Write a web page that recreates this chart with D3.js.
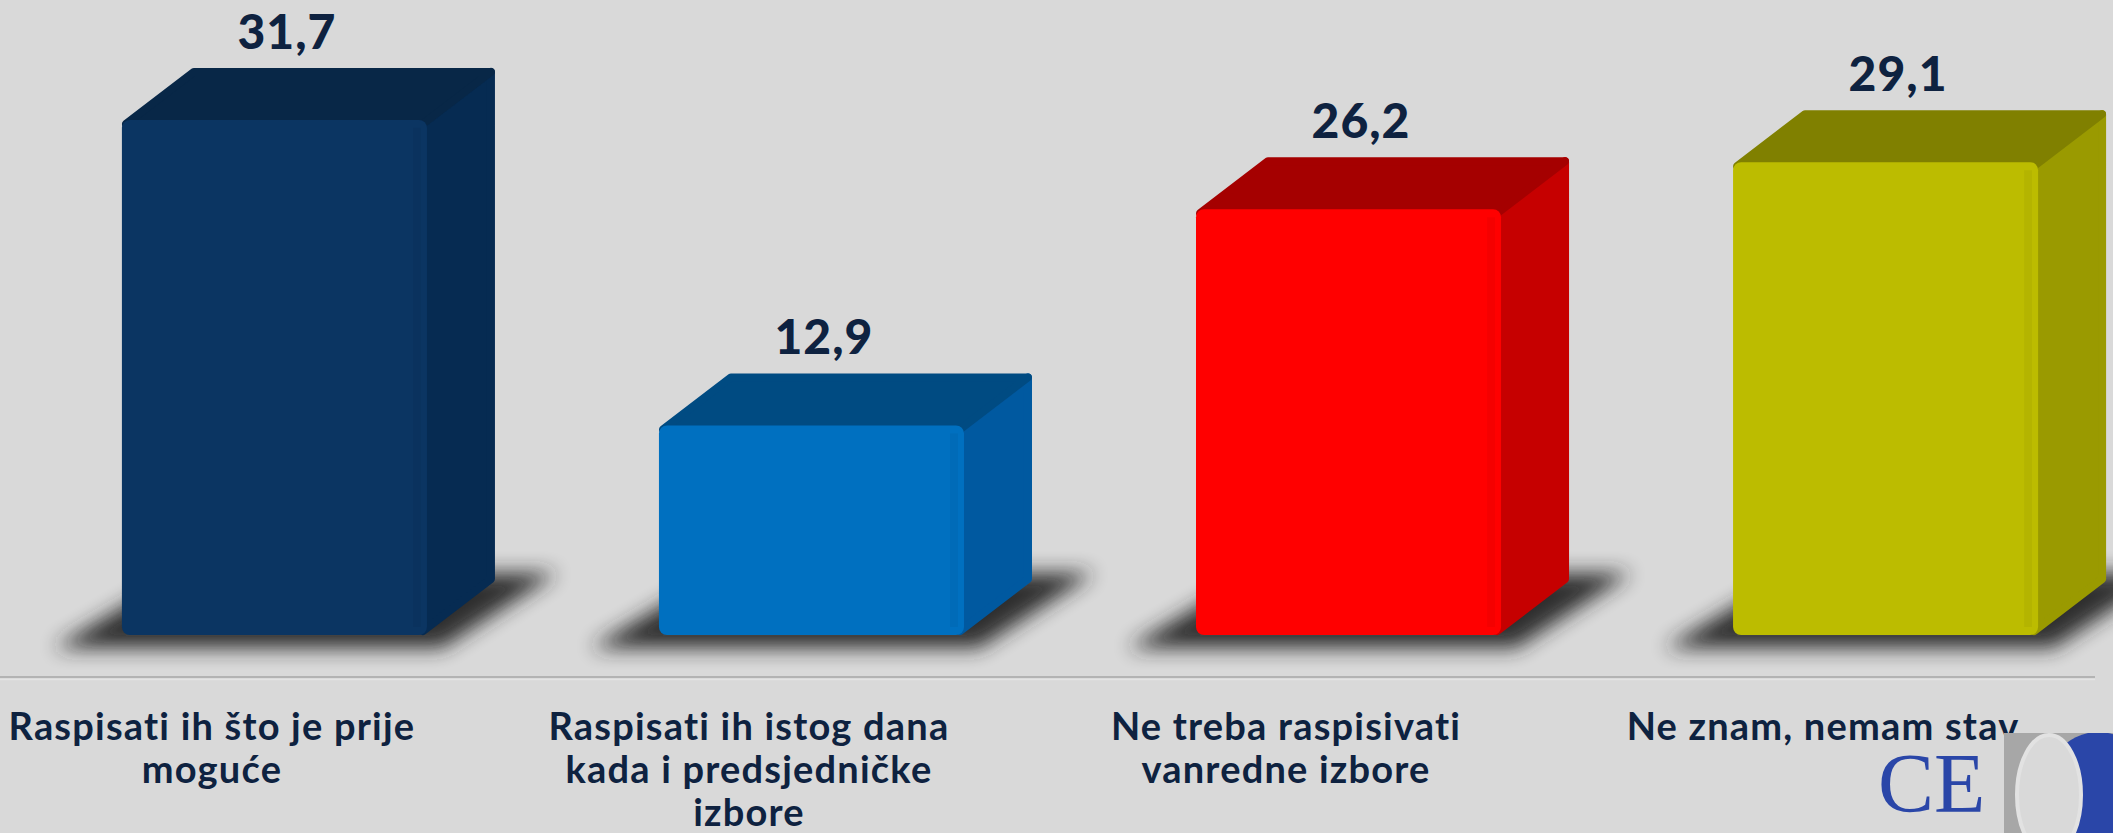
<!DOCTYPE html>
<html>
<head>
<meta charset="utf-8">
<script src="https://cdn.jsdelivr.net/npm/d3@7"></script>
<style>
  html, body { margin: 0; padding: 0; background: #d9d9d9; }
  svg { display: block; }
</style>
</head>
<body>
<svg id="chart"></svg>
<script>
// data
const categories = ["c1", "c2", "c3", "c4"];
const values = [31.7, 12.9, 26.2, 29.1];
const valueLabels = ["31,7", "12,9", "26,2", "29,1"];
const categoryLines = [
    ["Raspisati ih što je prije", "moguće"],
    ["Raspisati ih istog dana", "kada i predsjedničke", "izbore"],
    ["Ne treba raspisivati", "vanredne izbore"],
    ["Ne znam, nemam stav"]
];
const frontColors = ["#0b3562", "#0070c0", "#ff0000", "#bcbc00"];
const topColors   = ["#082747", "#004b82", "#a50000", "#808000"];
const sideColors  = ["#062b52", "#0059a0", "#c60000", "#9a9a00"];

const width = 2113;
const height = 833;
const baseY = 635;
const depth = { dx: 68, dy: 52 };
const textColor = "#0e2240";

const x = d3.scaleBand()
    .domain(categories)
    .range([0, 2160])
    .paddingInner(0.432)
    .paddingOuter(0.227);

const y = d3.scaleLinear()
    .domain([0, 35])
    .range([baseY, baseY - 35 * 16.25]);

const svg = d3.select('#chart')
    .attr("width", width)
    .attr("height", height)
    .style("font-family", "Lato, 'Open Sans', sans-serif");

svg.append("rect")
    .attr("width", width)
    .attr("height", height)
    .attr("fill", "#d9d9d9");

const defs = svg.append("defs");
defs.append("filter")
    .attr("id", "blur")
    .attr("x", "-30%").attr("y", "-60%")
    .attr("width", "160%").attr("height", "220%")
    .append("feGaussianBlur")
    .attr("stdDeviation", 10);

// floor line
svg.append("line")
    .attr("x1", 0).attr("x2", 2095)
    .attr("y1", 677).attr("y2", 677)
    .attr("stroke", "#b3b3b3")
    .attr("stroke-width", 2);
svg.append("line")
    .attr("x1", 0).attr("x2", 2095)
    .attr("y1", 679.5).attr("y2", 679.5)
    .attr("stroke", "#e4e4e4")
    .attr("stroke-width", 1.5);

const bars = svg.selectAll("g.bar")
    .data(categories)
    .join("g")
    .attr("class", "bar");

// shadow on the floor
bars.append("path")
    .attr("fill", "#262626")
    .attr("opacity", 0.95)
    .attr("filter", "url(#blur)")
    .attr("d", (c) => {
        const x0 = x(c), x1 = x(c) + x.bandwidth();
        return `M${x0 - 68},${baseY + 13} L${x1 + 15},${baseY + 13}
                L${x1 + depth.dx + 62},${baseY - depth.dy - 10}
                L${x0 + depth.dx - 10},${baseY - depth.dy - 10} Z`;
    });

const r = 4; // rounding via stroke joins

// side face
bars.append("path")
    .attr("fill", (c, i) => sideColors[i])
    .attr("stroke", (c, i) => sideColors[i])
    .attr("stroke-width", r * 2)
    .attr("stroke-linejoin", "round")
    .attr("d", (c, i) => {
        const x1 = x(c) + x.bandwidth() - r;
        const yt = y(values[i]) + r;
        return `M${x1},${yt} L${x1 + depth.dx},${yt - depth.dy}
                L${x1 + depth.dx},${baseY - r - depth.dy} L${x1},${baseY - r} Z`;
    });

// top face
bars.append("path")
    .attr("fill", (c, i) => topColors[i])
    .attr("stroke", (c, i) => topColors[i])
    .attr("stroke-width", r * 2)
    .attr("stroke-linejoin", "round")
    .attr("d", (c, i) => {
        const x0 = x(c) + r, x1 = x(c) + x.bandwidth() - r;
        const yt = y(values[i]) + r;
        return `M${x0},${yt} L${x0 + depth.dx},${yt - depth.dy}
                L${x1 + depth.dx},${yt - depth.dy} L${x1},${yt} Z`;
    });

// front face
bars.append("rect")
    .attr("x", (c) => x(c))
    .attr("y", (c, i) => y(values[i]))
    .attr("width", x.bandwidth())
    .attr("height", (c, i) => baseY - y(values[i]))
    .attr("rx", 8)
    .attr("fill", (c, i) => frontColors[i]);

// soft bevel at the right edge of the front
bars.append("rect")
    .attr("x", (c) => x(c) + x.bandwidth() - 14)
    .attr("y", (c, i) => y(values[i]) + 8)
    .attr("width", 8)
    .attr("height", (c, i) => baseY - y(values[i]) - 16)
    .attr("fill", "#000")
    .attr("opacity", 0.04);

// value labels
bars.append("text")
    .attr("x", (c) => x(c) + 165)
    .attr("y", (c, i) => y(values[i]) - depth.dy - 19)
    .attr("text-anchor", "middle")
    .attr("font-size", 48)
    .attr("font-weight", 900)
    .attr("letter-spacing", 1)
    .attr("fill", textColor)
    .text((c, i) => valueLabels[i]);

// category labels
bars.append("text")
    .attr("text-anchor", "middle")
    .attr("font-size", 38)
    .attr("font-weight", "bold")
    .attr("letter-spacing", 1.2)
    .attr("fill", textColor)
    .selectAll("tspan")
    .data((c, i) => categoryLines[i].map(t => ({ c, t })))
    .join("tspan")
    .attr("x", d => x(d.c) + 90)
    .attr("y", (d, j) => 740 + j * 43)
    .text(d => d.t);

// logo in the bottom right corner
const logo = svg.append("g");
defs.append("clipPath").attr("id", "logoClip")
    .append("rect")
    .attr("x", 2004).attr("y", 733)
    .attr("width", 109).attr("height", 100);
logo.append("text")
    .attr("x", 1878)
    .attr("y", 812)
    .attr("font-family", "'Liberation Serif', 'DejaVu Serif', serif")
    .attr("font-size", 84)
    .attr("fill", "#2a46a8")
    .text("CE");
const mark = logo.append("g").attr("clip-path", "url(#logoClip)");
mark.append("rect")
    .attr("x", 2004).attr("y", 733)
    .attr("width", 109).attr("height", 100)
    .attr("fill", "#a7a7a7");
mark.append("ellipse")
    .attr("cx", 2098).attr("cy", 800)
    .attr("rx", 58).attr("ry", 68)
    .attr("fill", "#2a46a8");
mark.append("ellipse")
    .attr("cx", 2049).attr("cy", 795)
    .attr("rx", 32).attr("ry", 60)
    .attr("fill", "#d9d9d9")
    .attr("stroke", "#e2e2e2")
    .attr("stroke-width", 4);
</script>
</body>
</html>
